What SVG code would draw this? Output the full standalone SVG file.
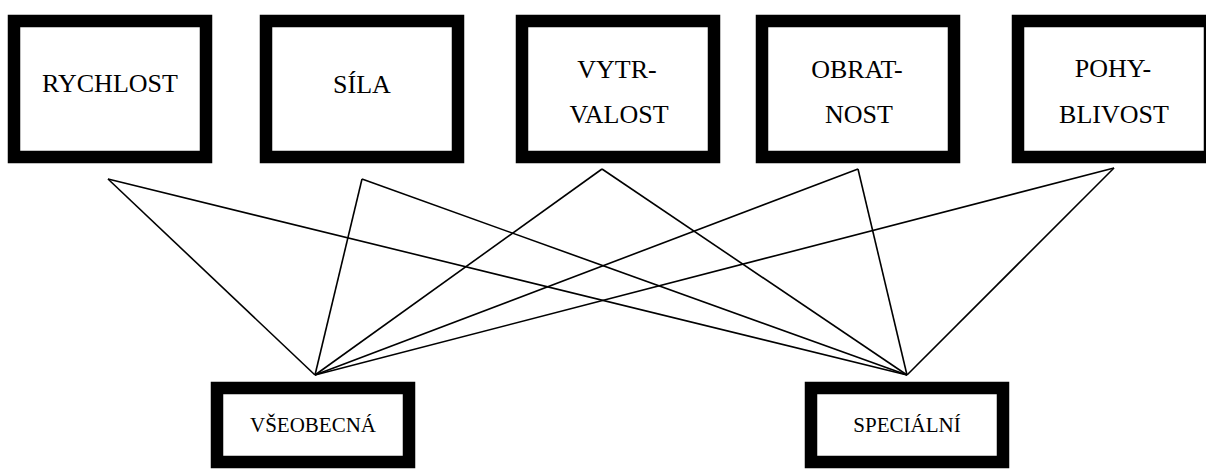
<svg xmlns="http://www.w3.org/2000/svg" width="1206" height="469" viewBox="0 0 1206 469">
<style>
.box{fill:#fff;stroke:#000;stroke-width:12.5}
.c line{stroke:#000;stroke-width:1.6}
</style>
<rect width="1206" height="469" fill="#fff"/>
<g id="connectors" class="c">
<line x1="108" y1="179" x2="315" y2="375"/>
<line x1="108" y1="179" x2="907" y2="375"/>
<line x1="362" y1="179" x2="315" y2="375"/>
<line x1="362" y1="179" x2="907" y2="375"/>
<line x1="602" y1="169" x2="315" y2="375"/>
<line x1="602" y1="169" x2="907" y2="375"/>
<line x1="858" y1="169" x2="315" y2="375"/>
<line x1="858" y1="169" x2="907" y2="375"/>
<line x1="1114" y1="168" x2="315" y2="375"/>
<line x1="1114" y1="168" x2="907" y2="375"/>
</g>
<g font-family="Liberation Serif, DejaVu Serif, serif" font-size="26" text-anchor="middle" fill="#000">
<g id="rychlost"><rect class="box" x="14" y="21" width="192" height="136"/><text x="110" y="92">RYCHLOST</text></g>
<g id="sila"><rect class="box" x="266" y="21" width="192" height="136"/><text x="362" y="93">SÍLA</text></g>
<g id="vytrvalost"><rect class="box" x="522" y="21" width="192" height="136"/><text x="617" y="78">VYTR-</text><text x="619" y="123">VALOST</text></g>
<g id="obratnost"><rect class="box" x="762" y="21" width="192" height="136"/><text x="857" y="78">OBRAT-</text><text x="859" y="123">NOST</text></g>
<g id="pohyblivost"><rect class="box" x="1018" y="21" width="192" height="136"/><text x="1113" y="77">POHY-</text><text x="1114" y="123">BLIVOST</text></g>
<g id="vseobecna"><rect class="box" x="217" y="388" width="192" height="74"/><text x="313" y="432" font-size="21">VŠEOBECNÁ</text></g>
<g id="specialni"><rect class="box" x="811" y="388" width="192" height="74"/><text x="907" y="432" font-size="21">SPECIÁLNÍ</text></g>
</g>
</svg>
